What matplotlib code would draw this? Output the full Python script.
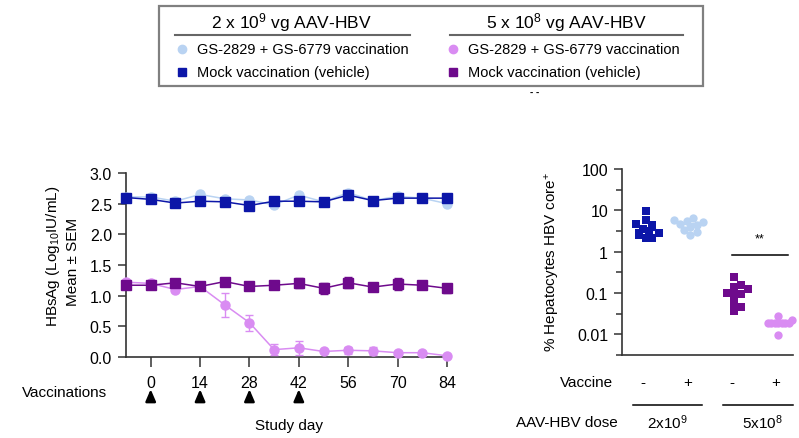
import numpy as np
import matplotlib.pyplot as plt
from matplotlib.lines import Line2D
from matplotlib.patches import Rectangle
from matplotlib.ticker import FixedLocator, NullFormatter

plt.rcParams['font.family'] = ['Liberation Sans', 'DejaVu Sans']
plt.rcParams['mathtext.default'] = 'regular'

# ---- data: HBsAg time course (log10 IU/mL, mean +- SEM) ----
days = [-7, 0, 7, 14, 21, 28, 35, 42, 49, 56, 63, 70, 77, 84]
vacc_days = [0, 14, 28, 42]

mock_hi = [2.60, 2.57, 2.51, 2.54, 2.53, 2.47, 2.54, 2.54, 2.53, 2.64, 2.55, 2.59, 2.59, 2.59]
mock_hi_sem = [0.03] * 14
vacc_hi = [2.61, 2.61, 2.54, 2.65, 2.58, 2.56, 2.48, 2.64, 2.53, 2.68, 2.55, 2.62, 2.59, 2.50]
vacc_hi_sem = [0.03] * 14
mock_lo = [1.17, 1.17, 1.21, 1.15, 1.23, 1.15, 1.17, 1.20, 1.12, 1.21, 1.14, 1.19, 1.17, 1.12]
mock_lo_sem = [0.05, 0.05, 0.05, 0.05, 0.05, 0.05, 0.05, 0.08, 0.09, 0.09, 0.05, 0.09, 0.06, 0.07]
vacc_lo = [1.22, 1.20, 1.10, 1.15, 0.85, 0.56, 0.12, 0.15, 0.09, 0.11, 0.10, 0.07, 0.07, 0.02]
vacc_lo_sem = [0.03, 0.03, 0.03, 0.03, 0.20, 0.13, 0.09, 0.11, 0.03, 0.06, 0.06, 0.03, 0.03, 0.02]

# ---- data: % hepatocytes HBV core+ per animal ----
core_mock_hi = [9.8, 6.0, 4.6, 4.3, 3.6, 3.1, 2.9, 2.6, 2.2, 2.2]
core_vacc_hi = [6.5, 6.0, 5.6, 5.2, 4.8, 4.4, 4.0, 3.4, 3.0, 2.5]
core_mock_lo = [0.25, 0.16, 0.14, 0.125, 0.10, 0.095, 0.09, 0.056, 0.047, 0.037]
core_vacc_lo = [0.028, 0.022, 0.019, 0.019, 0.019, 0.019, 0.019, 0.019, 0.019, 0.0095]
vaccine_signs = ['-', '+', '-', '+']
dose_labels = [r'2x10$^9$', r'5x10$^8$']

c_mock_hi = '#0c16a8'
c_vacc_hi = '#b9d3f2'
c_mock_lo = '#6e0a8c'
c_vacc_lo = '#d98cf2'

W, H = 799, 439


def px(x, y):
    return (x / W, 1 - y / H)


def swarm(vals, dmin=6.0, ppd=41.0, ppu=44.0):
    # simple beeswarm offsets (in data units); markers may overlap
    step = dmin / 2
    ys = np.log10(vals) * ppd
    placed = []
    offs = np.zeros(len(vals))
    for i in np.argsort(ys):
        for k in range(80):
            cand = ((k + 1) // 2) * (1 if k % 2 else -1) * step
            if all((cand - a) ** 2 + (ys[i] - b) ** 2 >= dmin ** 2 for a, b in placed):
                break
        placed.append((cand, ys[i]))
        offs[i] = cand / ppu
    return offs


fig = plt.figure(figsize=(W / 100, H / 100), dpi=100)

# ---------- legend box ----------
fig.patches.append(Rectangle(px(159, 87), (703 - 159) / W, 80 / H, transform=fig.transFigure,
                             fill=False, ec='#808080', lw=1.6))
for cx, txt in [(291, r'2 x 10$^9$ vg AAV-HBV'), (566, r'5 x 10$^8$ vg AAV-HBV')]:
    fig.text(*px(cx, 23), txt, ha='center', va='center', fontsize=12.5)
for x0, x1 in [(175, 410), (450, 683)]:
    fig.lines.append(Line2D([x0 / W, x1 / W], [1 - 36 / H] * 2, transform=fig.transFigure,
                            color='#666666', lw=1.5))
for mx, cc, cs in [(182, c_vacc_hi, c_mock_hi), (453, c_vacc_lo, c_mock_lo)]:
    fig.lines.append(Line2D([mx / W], [1 - 50 / H], transform=fig.transFigure, marker='o',
                            ms=6, color=cc, ls='none'))
    fig.lines.append(Line2D([mx / W], [1 - 73 / H], transform=fig.transFigure, marker='s',
                            ms=6, color=cs, ls='none'))
    fig.text(*px(mx + 15, 50), 'GS-2829 + GS-6779 vaccination', va='center', fontsize=10.5)
    fig.text(*px(mx + 15, 73), 'Mock vaccination (vehicle)', va='center', fontsize=10.5)
fig.text(*px(535, 92), '- -', ha='center', va='center', fontsize=7, fontweight='bold')

# ---------- left: HBsAg time course ----------
ax = fig.add_axes([126 / W, 1 - 358 / H, (448 - 126) / W, (358 - 174) / H])
series = [
    (vacc_hi, vacc_hi_sem, c_vacc_hi, 'o', 3),
    (mock_hi, mock_hi_sem, c_mock_hi, 's', 4),
    (vacc_lo, vacc_lo_sem, c_vacc_lo, 'o', 3),
    (mock_lo, mock_lo_sem, c_mock_lo, 's', 4),
]
for vals, err, col, mk, z in series:
    ax.errorbar(days, vals, yerr=err, color=col, marker=mk, ms=6.5, lw=1.1, capsize=3,
                elinewidth=1, capthick=1, clip_on=False, zorder=z)
ax.set_xlim(-7, 84.3)
ax.set_ylim(0, 3)
ax.set_xticks(range(0, 85, 14))
ax.set_yticks(np.arange(0, 3.01, 0.5))
ax.set_yticklabels([f'{v:.1f}' for v in np.arange(0, 3.01, 0.5)])
ax.spines[['top', 'right']].set_visible(False)
for s in ['left', 'bottom']:
    ax.spines[s].set_linewidth(1.2)
    ax.spines[s].set_color('#333333')
ax.tick_params(length=6, width=1.1, color='#333333', labelsize=11.5, pad=4)
ax.tick_params(axis='x', length=7, pad=6)

fig.text(*px(107, 393), 'Vaccinations', ha='right', va='center', fontsize=11)
for d in vacc_days:
    ax.annotate('', xy=(d, -0.16), xytext=(d, -0.25), xycoords=('data', 'axes fraction'),
                arrowprops=dict(arrowstyle='-|>,head_width=0.3,head_length=0.7',
                                color='black', lw=1.8), annotation_clip=False)
ax.text(0.505, -0.37, 'Study day', transform=ax.transAxes, ha='center', va='center', fontsize=11)
fig.text(*px(53, 256), r'HBsAg (Log$_{10}$IU/mL)', rotation=90, ha='center', va='center',
         fontsize=11)
fig.text(*px(73, 262), 'Mean ± SEM', rotation=90, ha='center', va='center', fontsize=11)

# ---------- right: % hepatocytes HBV core+ ----------
ax2 = fig.add_axes([622 / W, 1 - 356 / H, (793 - 622) / W, (356 - 170) / H])
groups = [
    (core_mock_hi, c_mock_hi, 's', 6.5),
    (core_vacc_hi, c_vacc_hi, 'o', 6.5),
    (core_mock_lo, c_mock_lo, 's', 7.0),
    (core_vacc_lo, c_vacc_lo, 'o', 3.5),
]
for i, (vals, col, mk, dmin) in enumerate(groups):
    ax2.hlines(np.median(vals), i - 0.25, i + 0.25, color=col, lw=1.5, zorder=2)
    ax2.scatter(i + swarm(vals, dmin), vals, marker=mk, s=36, color=col, lw=0, zorder=3,
                clip_on=False)
ax2.set_yscale('log')
ax2.set_ylim(10 ** -2.5, 100)
ax2.set_xlim(-0.545, 3.34)
ax2.set_xticks([])
ax2.set_yticks([0.01, 0.1, 1, 10, 100])
ax2.set_yticklabels(['0.01', '0.1', '1', '10', '100'])
ax2.yaxis.set_minor_locator(FixedLocator([10 ** (k + 0.5) for k in range(-3, 2)]))
ax2.yaxis.set_minor_formatter(NullFormatter())
ax2.spines[['top', 'right']].set_visible(False)
for s in ['left', 'bottom']:
    ax2.spines[s].set_linewidth(1.2)
    ax2.spines[s].set_color('#333333')
ax2.tick_params(which='major', length=6, width=1.1, color='#333333', labelsize=11.5, pad=4)
ax2.tick_params(which='minor', length=4, width=1.1, color='#333333')

# significance
ax2.plot([1.95, 3.23], [0.83, 0.83], color='black', lw=1.1)
ax2.text(2.59, 2.1, '**', ha='center', va='center', fontsize=9)

fig.text(*px(553, 262), r'% Hepatocytes HBV core$^{+}$', rotation=90, ha='center',
         va='center', fontsize=11)

tr = ax2.get_xaxis_transform()
fig.text(*px(613, 383), 'Vaccine', ha='right', va='center', fontsize=11)
for i, s in enumerate(vaccine_signs):
    ax2.text(i - 0.06, -0.145, s, transform=tr, ha='center', va='center', fontsize=11)
for (x0, x1), lab, xc in zip([(-0.30, 1.27), (1.75, 3.34)], dose_labels, [0.48, 2.64]):
    ax2.plot([x0, x1], [-0.269, -0.269], transform=tr, color='black', lw=1.1, clip_on=False)
    ax2.text(xc, -0.36, lab, transform=tr, ha='center', va='center', fontsize=11)
fig.text(*px(618, 423), 'AAV-HBV dose', ha='right', va='center', fontsize=11)

fig.savefig('out.png', dpi=100)
